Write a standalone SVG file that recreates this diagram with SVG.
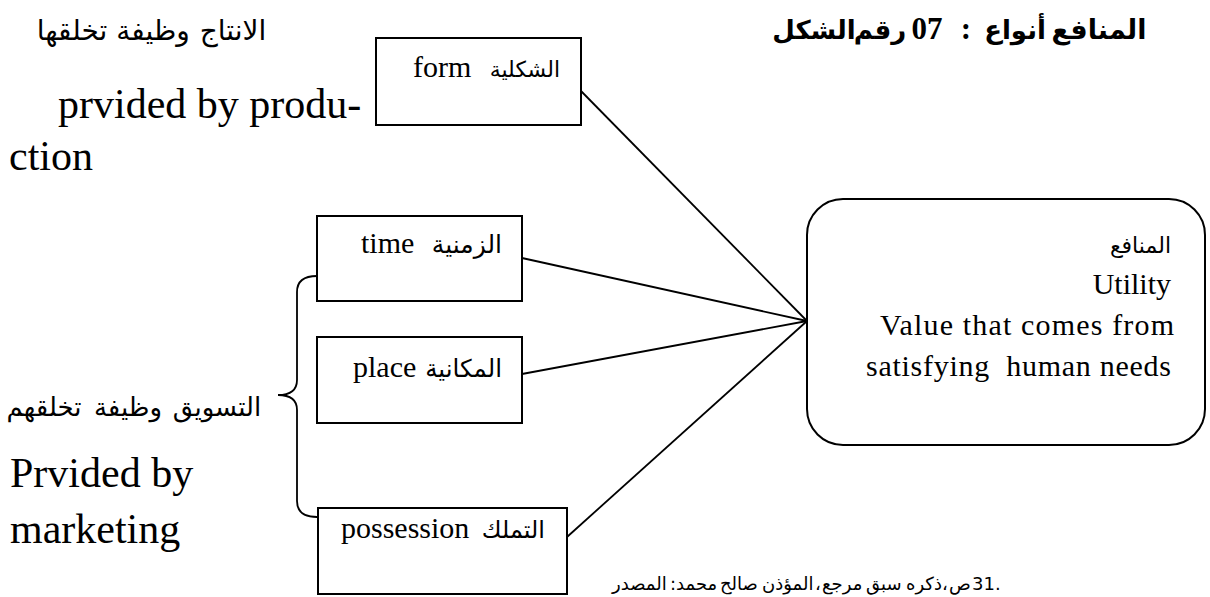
<svg xmlns="http://www.w3.org/2000/svg" width="1210" height="597" viewBox="0 0 1210 597">
  <style>
    .box { fill: #fff; stroke: #000; stroke-width: 2; }
    .link { fill: none; stroke: #000; stroke-width: 1.8; }
    .serif { font-family: "Liberation Serif", "DejaVu Sans", serif; fill: #000; }
    .lbl { font-size: 30px; }
    .ar { font-family: "Liberation Serif", "DejaVu Sans", sans-serif; fill: #000; }
    .big { font-size: 42px; }
    .ttl { font-family: "Liberation Serif", "DejaVu Sans", serif; font-weight: bold; fill: #000; }
    .src { font-family: "DejaVu Sans", sans-serif; font-size: 18px; fill: #000; }
  </style>
  <rect width="1210" height="597" fill="#fff"/>

  <!-- title: words set one by one, left to right -->
  <g id="title" text-anchor="middle">
    <text class="ttl" x="814" y="39" font-size="26">الشكل</text>
    <text class="ttl" x="880" y="39" font-size="26">رقم</text>
    <text class="ttl" x="927" y="39" font-size="31">07</text>
    <text class="ttl" x="966" y="39" font-size="31">:</text>
    <text class="ttl" x="1015" y="39" font-size="26">أنواع</text>
    <text class="ttl" x="1099" y="39" font-size="27">المنافع</text>
  </g>

  <!-- connectors into the hub -->
  <g id="connectors">
    <line class="link" x1="581" y1="91" x2="807" y2="321"/>
    <line class="link" x1="522" y1="258" x2="807" y2="321"/>
    <line class="link" x1="522" y1="374" x2="807" y2="321"/>
    <line class="link" x1="567" y1="537" x2="807" y2="321"/>
    <path id="brace" class="link" d="M317,276 C303,276 297,282 297,292 L297,380 C297,390 291,395 278,395 C291,395 297,400 297,410 L297,501 C297,511 303,517 317,517"/>
  </g>

  <!-- production side -->
  <g id="production-label">
    <g class="ar" font-size="28" text-anchor="middle">
      <text x="72" y="40">تخلقها</text>
      <text x="153" y="40">وظيفة</text>
      <text x="233" y="40">الانتاج</text>
    </g>
    <text class="serif big" x="58" y="118">prvided by produ-</text>
    <text class="serif big" x="9" y="170">ction</text>
  </g>

  <!-- marketing side -->
  <g id="marketing-label">
    <g class="ar" font-size="26" text-anchor="middle">
      <text x="44" y="416">تخلقهم</text>
      <text x="128" y="416">وظيفة</text>
      <text x="217" y="416">التسويق</text>
    </g>
    <text class="serif big" x="10" y="487">Prvided by</text>
    <text class="serif big" x="10" y="543">marketing</text>
  </g>

  <g id="node-form">
    <rect class="box" x="376" y="38" width="205" height="87"/>
    <text class="serif lbl" x="413" y="77">form</text>
    <text class="ar" x="560" y="77" text-anchor="end" font-size="22">الشكلية</text>
  </g>

  <g id="node-time">
    <rect class="box" x="317" y="216" width="205" height="85"/>
    <text class="serif lbl" x="361" y="253">time</text>
    <text class="ar" x="502" y="253" text-anchor="end" font-size="25">الزمنية</text>
  </g>

  <g id="node-place">
    <rect class="box" x="317" y="337" width="205" height="86"/>
    <text class="serif lbl" x="353" y="377">place</text>
    <text class="ar" x="502" y="377" text-anchor="end" font-size="24.5">المكانية</text>
  </g>

  <g id="node-possession">
    <rect class="box" x="318" y="508" width="249" height="86"/>
    <text class="serif lbl" x="341" y="538">possession</text>
    <text class="ar" x="545" y="538" text-anchor="end" font-size="24">التملك</text>
  </g>

  <g id="node-utility">
    <rect class="box" x="807" y="199" width="398" height="246" rx="36" ry="36"/>
    <text class="ar" x="1171" y="253" text-anchor="end" font-size="22">المنافع</text>
    <text class="serif lbl" x="1171" y="294" text-anchor="end">Utility</text>
    <text class="serif lbl" x="880" y="335" textLength="294" lengthAdjust="spacing">Value that comes from</text>
    <text class="serif lbl" x="866" y="376" textLength="305" lengthAdjust="spacing" xml:space="preserve">satisfying  human needs</text>
  </g>

  <!-- source note: pieces set one by one, left to right -->
  <g id="source">
    <text class="src" x="612" y="590">المصدر</text>
    <text class="src" x="670" y="590">:محمد</text>
    <text class="src" x="720" y="590">صالح</text>
    <text class="src" x="762" y="590">المؤذن</text>
    <text class="src" x="815" y="590">،</text>
    <text class="src" x="822" y="590">مرجع</text>
    <text class="src" x="866" y="590">سبق</text>
    <text class="src" x="906" y="590">ذكره</text>
    <text class="src" x="942" y="590">،</text>
    <text class="src" x="949" y="590">ص</text>
    <text class="src" x="972" y="590">31.</text>
  </g>
</svg>
